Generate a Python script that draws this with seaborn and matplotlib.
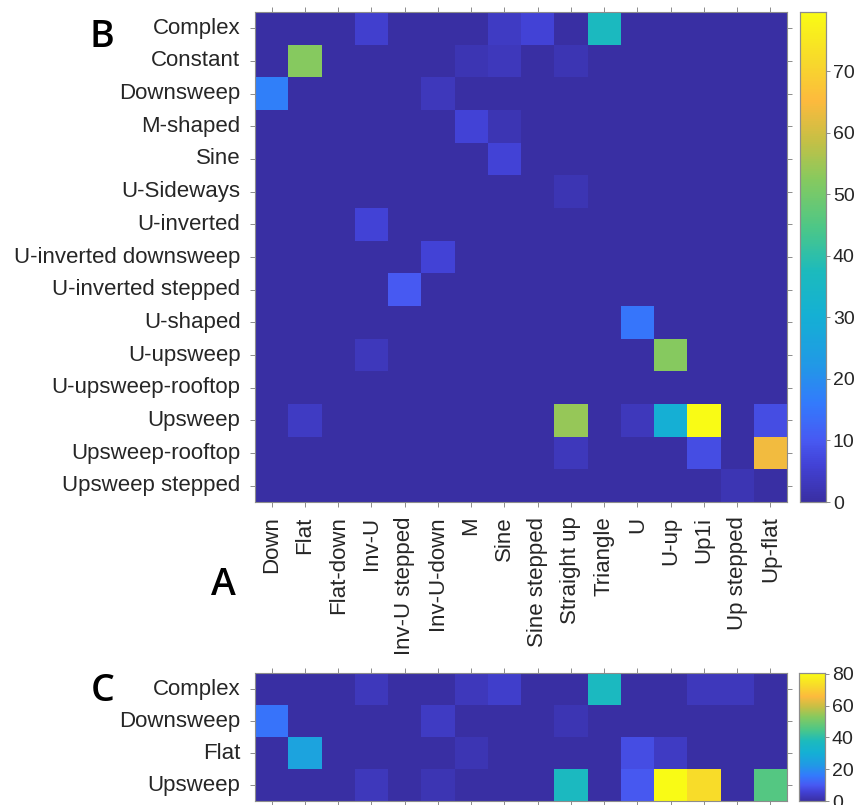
import numpy as np
import pandas as pd
import seaborn as sns
import matplotlib.pyplot as plt
from matplotlib.colors import LinearSegmentedColormap

# call-type categories (columns shared by both panels)
cols_a = ['Down', 'Flat', 'Flat-down', 'Inv-U', 'Inv-U stepped', 'Inv-U-down', 'M',
          'Sine', 'Sine stepped', 'Straight up', 'Triangle', 'U', 'U-up', 'Up1i',
          'Up stepped', 'Up-flat']

rows_b = ['Complex', 'Constant', 'Downsweep', 'M-shaped', 'Sine', 'U-Sideways',
          'U-inverted', 'U-inverted downsweep', 'U-inverted stepped', 'U-shaped',
          'U-upsweep', 'U-upsweep-rooftop', 'Upsweep', 'Upsweep-rooftop',
          'Upsweep stepped']

rows_c = ['Complex', 'Downsweep', 'Flat', 'Upsweep']

vals_b = [
    [0, 0, 0, 5, 0, 0, 0, 4, 6, 0, 37, 0, 0, 0, 0, 0],
    [0, 52.5, 0, 0, 0, 0, 2, 3, 0, 2, 0, 0, 0, 0, 0, 0],
    [17, 0, 0, 0, 0, 3, 0, 0, 0, 0, 0, 0, 0, 0, 0, 0],
    [0, 0, 0, 0, 0, 0, 6, 2, 0, 0, 0, 0, 0, 0, 0, 0],
    [0, 0, 0, 0, 0, 0, 0, 6, 0, 0, 0, 0, 0, 0, 0, 0],
    [0, 0, 0, 0, 0, 0, 0, 0, 0, 2, 0, 0, 0, 0, 0, 0],
    [0, 0, 0, 6, 0, 0, 0, 0, 0, 0, 0, 0, 0, 0, 0, 0],
    [0, 0, 0, 0, 0, 6, 0, 0, 0, 0, 0, 0, 0, 0, 0, 0],
    [0, 0, 0, 0, 10, 0, 0, 0, 0, 0, 0, 0, 0, 0, 0, 0],
    [0, 0, 0, 0, 0, 0, 0, 0, 0, 0, 0, 15, 0, 0, 0, 0],
    [0, 0, 0, 3, 0, 0, 0, 0, 0, 0, 0, 0, 52.5, 0, 0, 0],
    [0, 0, 0, 0, 0, 0, 0, 0, 0, 0, 0, 0, 0, 0, 0, 0],
    [0, 4, 0, 0, 0, 0, 0, 0, 0, 54, 0, 3, 30, 79.6, 0, 8],
    [0, 0, 0, 0, 0, 0, 0, 0, 0, 3, 0, 0, 0, 8, 0, 64],
    [0, 0, 0, 0, 0, 0, 0, 0, 0, 0, 0, 0, 0, 0, 2, 0],
]

vals_c = [
    [0, 0, 0, 3, 0, 0, 3, 5, 0, 0, 37, 0, 0, 3, 3, 0],
    [15, 0, 0, 0, 0, 4, 0, 0, 0, 2, 0, 0, 0, 0, 0, 0],
    [0, 26, 0, 0, 0, 0, 2, 0, 0, 0, 0, 8, 4, 0, 0, 0],
    [0, 0, 0, 3, 0, 2, 0, 0, 0, 37, 0, 10, 80.5, 73, 0, 46],
]

# approximate MATLAB parula
parula = LinearSegmentedColormap.from_list('parula', [
    (0.000, (0.225, 0.183, 0.640)),
    (0.075, (0.260, 0.260, 0.840)),
    (0.125, (0.280, 0.350, 0.950)),
    (0.200, (0.200, 0.480, 0.990)),
    (0.280, (0.130, 0.600, 0.900)),
    (0.380, (0.080, 0.690, 0.830)),
    (0.470, (0.110, 0.730, 0.740)),
    (0.560, (0.300, 0.780, 0.530)),
    (0.660, (0.530, 0.790, 0.370)),
    (0.740, (0.780, 0.750, 0.270)),
    (0.820, (0.990, 0.730, 0.240)),
    (0.900, (0.970, 0.850, 0.170)),
    (1.000, (0.977, 0.984, 0.081)),
])

plt.rcParams['font.family'] = ['Liberation Sans', 'DejaVu Sans']
txt = '#262626'
edge = '#8c8c8c'

df_b = pd.DataFrame(vals_b, index=rows_b, columns=cols_a)
df_c = pd.DataFrame(vals_c, index=rows_c, columns=cols_a)

W, H = 857, 805
fig = plt.figure(figsize=(W / 100, H / 100), dpi=100)


def box(x0, y0, x1, y1):
    return [x0 / W, 1 - y1 / H, (x1 - x0) / W, (y1 - y0) / H]


ax_b = fig.add_axes(box(255, 12, 787, 502))
cax_b = fig.add_axes(box(800, 12, 826, 502))
ax_c = fig.add_axes(box(255, 673, 787, 801))
cax_c = fig.add_axes(box(799, 673, 825, 801))

sns.heatmap(df_b, ax=ax_b, cbar_ax=cax_b, cmap=parula)
sns.heatmap(df_c, ax=ax_c, cbar_ax=cax_c, cmap=parula)

for ax in (ax_b, ax_c):
    for sp in ax.spines.values():
        sp.set_visible(True)
        sp.set_color(edge)
        sp.set_linewidth(0.8)
    ax.tick_params(which='both', direction='out', length=3.5, width=0.7,
                   color=edge, labelcolor=txt, labelsize=16,
                   top=True, bottom=True, left=True, right=True,
                   labeltop=False, labelright=False, pad=7)
    ax.set_xlabel('')
    ax.set_ylabel('')

ax_b.set_yticks(np.arange(len(rows_b)) + 0.5)
ax_b.set_yticklabels(rows_b, rotation=0)
ax_b.set_xticks(np.arange(len(cols_a)) + 0.5)
ax_b.set_xticklabels(cols_a, rotation=90, va='top')

ax_c.set_yticks(np.arange(len(rows_c)) + 0.5)
ax_c.set_yticklabels(rows_c, rotation=0)
ax_c.set_xticks(np.arange(len(cols_a)) + 0.5)
ax_c.tick_params(labelbottom=False)

for cax, ticks in ((cax_b, range(0, 80, 10)), (cax_c, range(0, 81, 20))):
    cax.set_yticks(list(ticks))
    cax.tick_params(direction='out', length=3, width=0.7, color=edge,
                    labelcolor=txt, labelsize=14, pad=2)
    for sp in cax.spines.values():
        sp.set_visible(True)
        sp.set_color(edge)
        sp.set_linewidth(0.8)

letter_kw = dict(fontsize=27, family=['Open Sans', 'DejaVu Sans'], weight='semibold',
                 color='black', ha='center', va='center')
fig.text(102 / W, 1 - 37 / H, 'B', **letter_kw)
fig.text(223 / W, 1 - 585 / H, 'A', **letter_kw)
fig.text(103 / W, 1 - 691 / H, 'C', **letter_kw)

plt.savefig('out.png', dpi=100)
